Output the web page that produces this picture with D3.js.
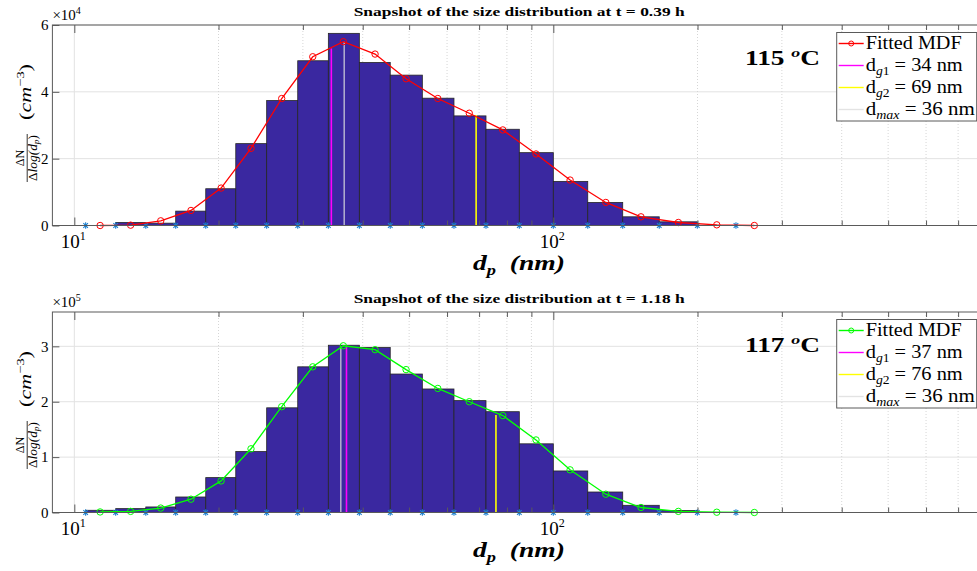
<!DOCTYPE html>
<html>
<head>
<meta charset="utf-8">
<script src="https://cdn.jsdelivr.net/npm/d3@7"></script>
<style>
  body { margin: 0; background: #fff; }
  svg { display: block; }
  text { font-family: "Liberation Serif", serif; fill: #000; }
</style>
</head>
<body>
<div id="container"></div>
<script>
/* 1. DATA */
// histogram bin edges, nm (log spaced)
const binEdges = [10.56, 12.20, 14.10, 16.28, 18.81, 21.73, 25.21, 29.27, 33.91, 39.36, 45.66,
                  53.28, 62.03, 72.35, 84.92, 100.0, 118.0, 139.6, 166.4, 199.8, 240.6, 287.5];
// positions of the fitted MDF points, nm
const fitDp = [11.32, 13.11, 15.15, 17.52, 20.25, 23.38, 27.10, 31.46, 36.44, 42.45, 49.27,
               57.39, 66.77, 78.43, 92.02, 108.4, 128.7, 152.4, 182.4, 219.4, 262.8];

// panel 1 (x 1e4), panel 2 (x 1e5)
const topBars    = [0, 0.09, 0.07, 0.43, 1.10, 2.45, 3.74, 4.93, 5.75, 4.88, 4.50,
                    3.81, 3.28, 2.88, 2.18, 1.32, 0.69, 0.26, 0.11, 0, 0];
const topFit     = [0.0, 0.01, 0.14, 0.45, 1.12, 2.31, 3.80, 5.05, 5.50, 5.13, 4.39,
                    3.80, 3.36, 2.86, 2.14, 1.36, 0.69, 0.26, 0.09, 0.02, 0.0];
const bottomBars = [0.04, 0.07, 0.10, 0.28, 0.63, 1.10, 1.89, 2.63, 3.02, 2.98, 2.50,
                    2.23, 2.02, 1.82, 1.24, 0.75, 0.37, 0.13, 0.035, 0, 0];
const bottomFit  = [0.01, 0.02, 0.08, 0.24, 0.57, 1.15, 1.91, 2.63, 3.01, 2.94, 2.58,
                    2.24, 2.00, 1.75, 1.31, 0.77, 0.33, 0.09, 0.02, 0.005, 0.0];

const snapTimes  = ["0.39", "1.18"];
const temps      = [115, 117];
const yExponents = [4, 5];
const yMax       = [6, 3.62];
const yTicks     = [[0, 2, 4, 6], [0, 1, 2, 3]];

// characteristic diameters: position (nm), height the marker line reaches, legend value
const dg1Pos  = [34.4, 37.0],  dg1Top  = [5.3, 3.01],  dg1Label  = [34, 37];
const dg2Pos  = [69.0, 75.9],  dg2Top  = [3.31, 1.76], dg2Label  = [69, 76];
const dmaxPos = [36.6, 36.0],  dmaxTop = [5.5, 3.0],   dmaxLabel = [36, 36];

const majorX = [10, 100];
const minorX = [20, 30, 40, 50, 60, 70, 80, 90, 200, 300, 400, 500, 600, 700, 800];

/* 2. LAYOUT */
const width = 977, height = 571;
const axLeft = 52.4, axRight = 985.9, axHeight = 200.5;
const panelTops = [25, 312];
const fitColors = ["#ff0000", "#00ff00"];
const barColor = "#3a28a0";
const gridColor = "#e2e2e2";
const boxColor = "#5a5a5a";
const legendTextLen = [96, 97, 97, 109];

const svg = d3.select("#container")
              .append("svg")
              .attr("width", width)
              .attr("height", height);

const xScale = d3.scaleLog().domain([9, 800]).range([axLeft, axRight]);

function drawPanel(i) {
  const top = panelTops[i], bottom = top + axHeight;
  const yScale = d3.scaleLinear().domain([0, yMax[i]]).range([bottom, top]);
  const bars = i === 0 ? topBars : bottomBars;
  const fit = i === 0 ? topFit : bottomFit;
  const g = svg.append("g");

  // grid
  g.append("g").selectAll("line")
   .data(yTicks[i].filter(d => d > 0))
   .join("line")
     .attr("x1", axLeft).attr("x2", axRight)
     .attr("y1", d => yScale(d)).attr("y2", d => yScale(d))
     .attr("stroke", gridColor);
  g.append("g").selectAll("line")
   .data(majorX)
   .join("line")
     .attr("x1", d => xScale(d)).attr("x2", d => xScale(d))
     .attr("y1", top).attr("y2", bottom)
     .attr("stroke", gridColor);
  g.append("g").selectAll("line")
   .data(minorX)
   .join("line")
     .attr("x1", d => xScale(d)).attr("x2", d => xScale(d))
     .attr("y1", top).attr("y2", bottom)
     .attr("stroke", "#d6d6d6")
     .attr("stroke-dasharray", "1,2");

  // histogram bars
  const binData = bars.map((v, k) => ({x0: binEdges[k], x1: binEdges[k + 1], v: v}));
  g.append("g").selectAll("rect")
   .data(binData)
   .join("rect")
     .attr("x", d => xScale(d.x0))
     .attr("width", d => xScale(d.x1) - xScale(d.x0))
     .attr("y", d => yScale(d.v))
     .attr("height", d => yScale(0) - yScale(d.v))
     .attr("fill", barColor)
     .attr("stroke", "#262626")
     .attr("stroke-width", 0.8);

  // dg1 / dg2 / dmax lines
  const vlines = [
    {pos: dmaxPos[i], top: dmaxTop[i], color: "#e0e0e0", op: 0.7},
    {pos: dg1Pos[i],  top: dg1Top[i],  color: "#ff00ff", op: 1},
    {pos: dg2Pos[i],  top: dg2Top[i],  color: "#ffff00", op: 1}
  ];
  g.append("g").selectAll("line")
   .data(vlines)
   .join("line")
     .attr("x1", d => xScale(d.pos)).attr("x2", d => xScale(d.pos))
     .attr("y1", yScale(0)).attr("y2", d => yScale(d.top))
     .attr("stroke", d => d.color)
     .attr("stroke-opacity", d => d.op)
     .attr("stroke-width", 1.6);

  // bin edge markers (*)
  const star = "M-3.2,0H3.2M0,-3.2V3.2M-2.3,-2.3L2.3,2.3M-2.3,2.3L2.3,-2.3";
  g.append("g").selectAll("path")
   .data(binEdges.slice(0, fitDp.length))
   .join("path")
     .attr("d", star)
     .attr("transform", d => `translate(${xScale(d)},${yScale(0)})`)
     .attr("stroke", "#1a7fd0")
     .attr("stroke-width", 1.1)
     .attr("fill", "none");

  // fitted MDF
  const line = d3.line().x((d, k) => xScale(fitDp[k])).y(d => yScale(d));
  g.append("path")
   .datum(fit)
   .attr("d", line)
   .attr("fill", "none")
   .attr("stroke", fitColors[i])
   .attr("stroke-width", 1.3);
  g.append("g").selectAll("circle")
   .data(fit)
   .join("circle")
     .attr("cx", (d, k) => xScale(fitDp[k]))
     .attr("cy", d => yScale(d))
     .attr("r", 3.2)
     .attr("fill", "none")
     .attr("stroke", fitColors[i])
     .attr("stroke-width", 1);

  // axes (ticks inward)
  const axisStyle = sel => {
    sel.select(".domain").remove();
    sel.selectAll(".tick line").attr("stroke", boxColor);
  };
  g.append("g").attr("transform", `translate(0,${bottom})`)
   .call(d3.axisBottom(xScale).tickValues(majorX).tickSizeInner(-8).tickSizeOuter(0).tickFormat(""))
   .call(axisStyle);
  g.append("g").attr("transform", `translate(0,${bottom})`)
   .call(d3.axisBottom(xScale).tickValues(minorX).tickSizeInner(-5).tickSizeOuter(0).tickFormat(""))
   .call(axisStyle);
  g.append("g").attr("transform", `translate(0,${top})`)
   .call(d3.axisTop(xScale).tickValues(majorX).tickSizeInner(-8).tickSizeOuter(0).tickFormat(""))
   .call(axisStyle);
  g.append("g").attr("transform", `translate(0,${top})`)
   .call(d3.axisTop(xScale).tickValues(minorX).tickSizeInner(-5).tickSizeOuter(0).tickFormat(""))
   .call(axisStyle);
  g.append("g").attr("transform", `translate(${axLeft},0)`)
   .call(d3.axisLeft(yScale).tickValues(yTicks[i]).tickSizeInner(-7).tickSizeOuter(0)
           .tickPadding(4).tickFormat(d => d))
   .call(axisStyle)
   .call(a => a.selectAll(".tick text")
               .attr("font-family", "Liberation Serif")
               .attr("font-size", 15)
               .attr("fill", "#262626"));

  g.append("rect")
   .attr("x", axLeft).attr("y", top)
   .attr("width", axRight - axLeft).attr("height", axHeight)
   .attr("fill", "none")
   .attr("stroke", boxColor);

  // x tick labels 10^n
  const xl = g.append("g").selectAll("text")
   .data(majorX)
   .join("text")
     .attr("x", d => xScale(d) - 1)
     .attr("y", bottom + 22.5)
     .attr("text-anchor", "middle")
     .attr("font-size", 19)
     .attr("fill", "#262626");
  xl.append("tspan").text("10");
  xl.append("tspan").attr("dy", -8).attr("font-size", 12).text(d => Math.round(Math.log10(d)));

  // exponent above the y axis
  const ex = g.append("text")
    .attr("x", axLeft)
    .attr("y", top - 5)
    .attr("font-size", 15)
    .attr("fill", "#262626");
  ex.append("tspan").text("\u00d710");
  ex.append("tspan").attr("dy", -6).attr("font-size", 10).text(yExponents[i]);

  // title
  g.append("text")
   .attr("x", (axLeft + axRight) / 2)
   .attr("y", top - 9)
   .attr("text-anchor", "middle")
   .attr("font-family", "DejaVu Serif")
   .attr("font-weight", "bold")
   .attr("font-size", 12.5)
   .attr("textLength", 331)
   .attr("lengthAdjust", "spacingAndGlyphs")
   .text(`Snapshot of the size distribution at t = ${snapTimes[i]} h`);

  // x label
  const xlab = g.append("text")
    .attr("x", 519)
    .attr("y", bottom + 44.5)
    .attr("text-anchor", "middle")
    .attr("font-size", 21)
    .attr("font-weight", "bold")
    .attr("font-style", "italic")
    .attr("textLength", 92)
    .attr("lengthAdjust", "spacingAndGlyphs");
  xlab.append("tspan").text("d");
  xlab.append("tspan").attr("dy", 5).attr("font-size", 14).text("p");
  xlab.append("tspan").attr("dy", -5).text("\u00a0\u00a0(nm)");

  // y label (rotated)
  const yl = g.append("g").attr("transform", `translate(26.7,${top + 98})rotate(-90)`);
  yl.append("line")
    .attr("x1", -59).attr("x2", -11).attr("y1", 0.5).attr("y2", 0.5)
    .attr("stroke", "#000").attr("stroke-width", 0.8);
  yl.append("text")
    .attr("x", -35).attr("y", -2.5)
    .attr("text-anchor", "middle")
    .attr("font-size", 12)
    .text("\u0394N");
  const den = yl.append("text")
    .attr("x", -35).attr("y", 10)
    .attr("text-anchor", "middle")
    .attr("font-size", 12)
    .attr("textLength", 46)
    .attr("lengthAdjust", "spacingAndGlyphs");
  den.append("tspan").text("\u0394");
  den.append("tspan").attr("font-style", "italic").text("log(d");
  den.append("tspan").attr("font-style", "italic").attr("font-size", 8.5).attr("dy", 2.5).text("p");
  den.append("tspan").attr("dy", -2.5).text(")");
  const unit = yl.append("text")
    .attr("x", 3).attr("y", 4.5)
    .attr("font-size", 17)
    .attr("textLength", 56)
    .attr("lengthAdjust", "spacingAndGlyphs");
  unit.append("tspan").text("(");
  unit.append("tspan").attr("font-style", "italic").text("cm");
  unit.append("tspan").attr("font-size", 11).attr("dy", -7).text("\u22123");
  unit.append("tspan").attr("dy", 7).text(")");

  // temperature annotation
  const tl = g.append("text")
    .attr("x", 745)
    .attr("y", top + 40)
    .attr("font-size", 20)
    .attr("font-weight", "bold")
    .attr("textLength", 75)
    .attr("lengthAdjust", "spacingAndGlyphs");
  tl.append("tspan").text(temps[i] + "\u00a0");
  tl.append("tspan").attr("dy", -8).attr("font-size", 13).attr("font-style", "italic").text("o");
  tl.append("tspan").attr("dy", 8).text("C");

  // legend
  const lx = 836.7, ly = top + 7.5;
  const lg = g.append("g").attr("transform", `translate(${lx},${ly})`);
  lg.append("rect")
    .attr("width", 140).attr("height", 88.5)
    .attr("fill", "#fff")
    .attr("stroke", boxColor);
  const entries = [
    {color: fitColors[i], op: 1, main: "Fitted MDF", sub: "", rest: "", marker: true},
    {color: "#ff00ff", op: 1, main: "d", sub: "g1", rest: ` = ${dg1Label[i]} nm`},
    {color: "#ffff00", op: 1, main: "d", sub: "g2", rest: ` = ${dg2Label[i]} nm`},
    {color: "#e0e0e0", op: 0.9, main: "d", sub: "max", rest: ` = ${dmaxLabel[i]} nm`}
  ];
  const rows = lg.selectAll("g.row")
    .data(entries)
    .join("g")
      .attr("class", "row")
      .attr("transform", (d, k) => `translate(0,${11 + k * 22})`);
  rows.append("line")
    .attr("x1", 2).attr("x2", 27)
    .attr("stroke", d => d.color)
    .attr("stroke-opacity", d => d.op)
    .attr("stroke-width", 1.4);
  rows.filter(d => d.marker).append("circle")
    .attr("cx", 14.5).attr("r", 2.5)
    .attr("fill", "none")
    .attr("stroke", d => d.color);
  const rt = rows.append("text")
    .attr("x", 29).attr("y", 5.5)
    .attr("font-size", 18)
    .attr("fill", "#262626")
    .attr("textLength", (d, k) => legendTextLen[k])
    .attr("lengthAdjust", "spacingAndGlyphs");
  rt.append("tspan").text(d => d.main);
  rt.filter(d => d.sub).append("tspan")
    .attr("dy", 4).attr("font-size", 12).attr("font-style", "italic")
    .text(d => d.sub.replace(/[0-9]/g, ""))
    .append("tspan").attr("font-style", "normal")
    .text(d => d.sub.replace(/[a-z]/g, ""));
  rt.filter(d => d.sub).append("tspan")
    .attr("dy", -4)
    .text(d => d.rest);
}

/* 3. DRAW */
drawPanel(0);
drawPanel(1);
</script>
</body>
</html>
